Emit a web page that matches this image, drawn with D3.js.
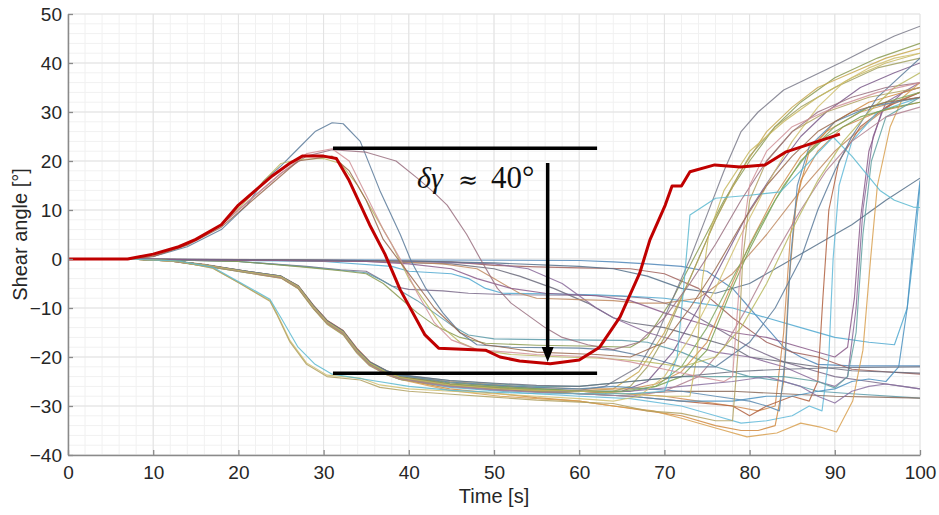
<!DOCTYPE html>
<html><head><meta charset="utf-8">
<script src="https://cdn.jsdelivr.net/npm/d3@7"></script>
<style>body{margin:0;background:#fff}</style>
</head><body>
<svg id="chart" width="939" height="515"></svg>
<script>
// ---------- data (time [s], shear angle [deg]) ----------
const xTicks = [0,10,20,30,40,50,60,70,80,90,100];
const yTicks = [-40,-30,-20,-10,0,10,20,30,40,50];

const red = [[0,0],[7,0],[10,1],[13,2.5],[15,4],[18,7],[20,11],[22,14],[24,17],[26,19.5],[27.5,21],[30,21],[31.5,20.5],[33,16],[35.4,7],[37.2,1],[39,-6.3],[41.9,-15.5],[43.5,-18.2],[49,-18.6],[50.7,-20],[53,-20.8],[56.6,-21.4],[60,-20.6],[62.4,-18],[64.8,-11.8],[67.1,-2.9],[68.3,3.9],[70.1,11],[70.9,14.9],[72,14.9],[73,17.8],[75.9,19.2],[78.9,18.8],[81.8,19.2],[84.2,21.8],[90.6,25.5]];

// rise-then-fall group
const a1 = [[0,0],[7,0],[10,0.5],[14,2.5],[18,6],[21,11],[23,16],[25,19],[27,22.5],[29,26],[31,27.8],[32.3,27.6],[34.3,24],[36.6,14],[39,5],[40.3,-0.5],[42,-6],[44,-11],[46,-15],[48,-17.5],[52,-18],[60,-18.2],[64,-18.6],[68,-20],[72,-22],[76,-22],[80,-17],[83,-10],[86,0],[88,10],[90,18],[92,25],[95,33],[100,41]];
const a2 = [[0,0],[7,0],[10,0.5],[14,3],[18,7],[22,13],[25,17.5],[28,21],[31,22.3],[35,21.8],[38.5,20],[41,16.5],[43,13.5],[44.5,11],[46.8,5],[48.4,0],[50.4,-6],[52,-9],[54,-11.5],[56,-14],[58,-16],[61,-17.5],[64,-18.5],[67,-17],[70,-12],[73,-5],[76,3],[79,12],[82,20],[85,26],[88,30],[92,33],[96,35],[100,36]];
const a3 = [[0,0],[7,0],[10,0.7],[14,3],[18,7],[21,12],[23,16],[25,19.5],[27,20.3],[30,20.5],[32,19.5],[34,15],[36,9],[38,3],[40,-4],[42,-9],[44,-14],[46,-17],[48,-18.5],[52,-19.5],[58,-20],[62,-20.2],[65,-20.5],[68,-21],[72,-22],[76,-20],[79,-14],[82,-5],[85,6],[88,16],[91,24],[94,30],[97,35],[100,38]];
const a4 = [[0,0],[7,0],[10,0.6],[14,3],[18,7],[22,13],[25,17.5],[28,21.5],[31,22.5],[33,20],[35,13],[37,6],[39,0],[41,-7],[43,-13],[45,-16.5],[48,-18.5],[55,-19.5],[62,-20],[66,-21],[70,-22.5],[74,-24],[77,-25],[78,-24],[78.6,-10],[79.2,5],[80,15],[82,22],[85,27],[90,31],[95,34],[100,36]];
const a5 = [[0,0],[7,0],[10,0.5],[14,2.8],[18,6.5],[22,12.5],[25,17],[27,20],[31,21],[33,18],[35,12],[37,4],[40,-3],[43,-10],[46,-15],[49,-17.5],[55,-19],[62,-19.5],[66,-20],[70,-17],[73,-10],[76,-2],[79,7],[82,15],[85,21],[88,26],[92,30],[96,32],[100,33]];

// near-zero / step-down group
const b1 = [[0,0],[7,0],[20,-0.1],[40,-0.2],[60,-0.3],[64,-0.6],[68,-1],[72,-1.5],[75,-2.5],[78,-6],[80,-10],[82,-14],[84,-18],[86,-20],[88,-21.5],[92,-21.8],[100,-21.8]];
const b2 = [[0,0],[7,0],[30,-0.2],[40,-0.4],[45,-0.6],[50,-1.3],[55,-1.6],[60,-1.8],[66,-2],[70,-3],[74,-6],[78,-12],[82,-17],[85,-19],[88,-20],[92,-22.5],[96,-23],[100,-23.5]];
const b3 = [[0,0],[7,0],[20,-0.5],[28,-1.5],[32,-2.2],[35,-2.5],[36.5,-4],[38,-5.5],[40,-6.2],[44,-6.5],[47,-7],[52,-7.3],[60,-7.4],[65,-7.6],[68,-8],[72,-10],[76,-14],[80,-18],[84,-21],[88,-23],[90,-24],[94,-25],[100,-26.5]];
const b4 = [[0,0],[7,0],[20,-0.5],[28,-1.6],[32,-2.3],[35,-2.8],[37,-4.5],[39,-6.5],[41,-8.5],[43,-11],[45,-13.5],[47,-15.5],[50,-16.3],[58,-16.5],[65,-16.6],[68,-17],[72,-19],[76,-22],[80,-24],[84,-25],[88,-27],[92,-27.5],[100,-28.4]];
const b5 = [[0,0],[7,0],[20,-0.5],[28,-1.7],[32,-2.4],[35,-3],[37,-5],[39,-8],[41,-11],[43,-13.5],[46,-16],[49,-17.2],[55,-17.6],[62,-17.8],[66,-18],[68,-16],[71,-8],[74,2],[77,12],[80,20],[83,27],[86,32],[90,37],[95,41],[100,44]];
const b6 = [[0,0],[7,0],[30,-0.5],[38,-1.5],[40,-2.5],[45,-3],[47,-4],[49,-6],[51,-7],[56,-7.1],[62,-7.3],[66,-7.6],[70,-8],[74,-9],[78,-10],[82,-12],[86,-14],[90,-16],[94,-17],[97,-17.5],[98.5,-10],[99.5,5],[100,15]];
const b7 = [[0,0],[7,0],[35,-0.5],[45,-1],[50,-2],[53,-3.5],[57,-6],[61,-9],[64,-12],[66,-13],[70,-14],[74,-16],[78,-18],[80,-20],[84,-21],[88,-22],[92,-22.8],[100,-23.3]];
const b8 = [[0,0],[7,0],[40,-0.5],[50,-1],[54,-2],[58,-5],[62,-10],[64,-12],[68,-15],[72,-17],[76,-19],[80,-20],[84,-22],[88,-25],[90,-26],[91.5,-24],[92.5,-10],[93.3,10],[94.5,25],[96,32],[100,36]];
const b9 = [[0,0],[7,0],[38,-0.5],[44,-1],[48,-2],[50,-4],[53,-7],[55,-8],[60,-8.3],[64,-8.5],[67,-9],[70,-9],[74,-8],[78,-3],[82,5],[86,14],[90,22],[94,28],[97,32],[100,34]];
const d1 = [[0,0],[7,0],[40,-0.4],[50,-0.8],[60,-1.5],[64,-2],[68,-3.5],[72,-6],[76,-7],[80,-5],[84,-1],[88,3],[92,7],[96,12],[100,16.5]];
const e1 = [[0,0],[7,0],[35,-0.5],[40,-1],[45,-2],[48,-4],[52,-6],[56,-7],[62,-7.5],[66,-8.5],[70,-11],[74,-13],[78,-15],[82,-16],[86,-18],[90,-20],[91.5,-18],[92.3,-8],[93,8],[94,22],[95.5,30],[98,34],[100,35]];

// early-descending bundle
const c1 = [[0,0],[7,0],[12,-0.3],[16,-1.2],[21,-2.6],[25,-3.6],[27,-5.6],[28.8,-9.7],[30.4,-12.8],[32.3,-14.9],[33.9,-18.6],[35.4,-21.2],[37.4,-23],[39,-24],[44.8,-25.3],[50.7,-26],[55,-26.5],[60,-26.8],[63,-26],[65,-24],[67,-22],[69,-16],[71,-8],[73,0],[75,9],[77,18],[79,26],[81,30],[84,34.5],[87,37],[90.6,40],[94,43],[97,45.5],[100,47.5]];
const c2 = [[0,0],[7,0],[12,-0.3],[16,-1.3],[21,-2.7],[25,-3.7],[27,-5.8],[28.8,-9.9],[30.4,-13],[32.3,-15.2],[33.9,-18.9],[35.4,-21.5],[37.4,-23.2],[39,-24.2],[44.8,-25.5],[50.7,-26.2],[55,-26.7],[60,-27],[64,-26.5],[67,-23],[70,-15],[73,-4],[76,8],[79,18],[82,26],[85,31],[88,35],[92,38],[96,41],[100,43]];
const c3 = [[0,0],[7,0],[12,-0.3],[16,-1.2],[21,-2.5],[25,-3.5],[27,-5.5],[28.8,-9.5],[30.4,-12.6],[32.3,-14.7],[33.9,-18.4],[35.4,-21],[37.4,-23.3],[39,-24.5],[44.8,-25.8],[50.7,-26.5],[55,-27],[60,-27.5],[65,-27],[68,-25],[71,-19],[74,-10],[77,0],[80,10],[83,18],[86,25],[89,30],[93,35],[97,38],[100,40]];
const c4 = [[0,0],[7,0],[12,-0.4],[16,-1.3],[21,-2.7],[25,-3.8],[27,-5.9],[28.8,-10],[30.4,-13.1],[32.3,-15.3],[33.9,-19],[35.4,-21.6],[37.4,-23.4],[39,-24.3],[44.8,-25.6],[50.7,-26.3],[55,-26.8],[60,-27],[65,-27.5],[70,-28],[74,-29],[78,-30],[81,-31],[83,-30],[84,-15],[84.8,5],[86,16],[88,22],[91,27],[95,30],[100,32]];
const c5 = [[0,0],[7,0],[12,-0.3],[16,-1.1],[21,-2.5],[25,-3.5],[27,-5.4],[28.8,-9.4],[30.4,-12.5],[32.3,-14.6],[33.9,-18.2],[35.4,-20.9],[37.4,-22.8],[39,-24],[44.8,-25.6],[50.7,-26.6],[55,-27.1],[60,-27.5],[66,-28],[72,-29],[78,-30],[80,-32],[82,-30],[85,-28],[87,-29],[88,-25],[88.6,-8],[89.3,10],[90.5,20],[93,27],[96,31],[100,34]];
const c6 = [[0,0],[7,0],[12,-0.3],[16,-1.2],[21,-2.6],[25,-3.7],[27,-5.7],[28.8,-9.8],[30.4,-12.9],[32.3,-15],[33.9,-18.7],[35.4,-21.4],[37.4,-23.4],[39,-24.6],[44.8,-26.2],[50.7,-27],[55,-27.5],[60,-28],[66,-28.5],[72,-30],[76,-32],[79,-33.5],[82,-33],[85,-32],[87,-30],[88.5,-31],[89.3,-20],[89.8,0],[90.5,15],[92,24],[95,30],[100,33]];
const c7 = [[0,0],[7,0],[12,-0.3],[16,-1.2],[21,-2.6],[25,-3.6],[27,-5.6],[28.8,-9.7],[30.4,-12.8],[32.3,-14.9],[33.9,-18.6],[35.4,-21.2],[37.4,-23.1],[39,-24.2],[44.8,-25.6],[50.7,-26.4],[55,-26.8],[60,-27],[66,-27.5],[72,-27],[78,-27],[84,-27.5],[90,-28],[95,-28.2],[100,-28.4]];
const c8 = [[0,0],[7,0],[12,-0.4],[16,-1.4],[21,-2.8],[25,-3.8],[27,-5.9],[28.8,-10],[30.4,-13],[32.3,-15.2],[33.9,-18.8],[35.4,-21.5],[37.4,-23.5],[39,-24.6],[44.8,-26],[50.7,-26.8],[55,-27.2],[60,-27.5],[66,-28],[72,-29],[78,-29],[82,-28],[85,-28],[88,-27],[90,-26.5],[92,-25],[94,-24.5],[96,-25],[97.5,-22],[98.5,-10],[99.3,5],[100,16]];
const c9 = [[0,0],[7,0],[12,-0.3],[16,-1.2],[21,-2.6],[25,-3.6],[27,-5.6],[28.8,-9.6],[30.4,-12.7],[32.3,-14.8],[33.9,-18.5],[35.4,-21.1],[37.4,-22.9],[39,-23.9],[44.8,-25.2],[50.7,-25.9],[55,-26.4],[60,-27],[66,-27],[69,-26],[72,-24],[75,-18.6],[77.7,-7],[80,2],[83,12],[86,20],[89,25],[93,29],[97,31],[100,32]];
const c10 = [[0,0],[7,0],[12,-0.3],[16,-1.2],[21,-2.6],[25,-3.6],[27,-5.7],[28.8,-9.8],[30.4,-12.9],[32.3,-15],[33.9,-18.7],[35.4,-21.3],[37.4,-23],[39,-23.8],[44.8,-25],[50.7,-25.7],[55,-26.2],[60,-26.5],[66,-26.5],[69,-25.5],[72,-23],[75,-17],[77.7,-6],[80,3],[83,13],[86,21],[89,26],[93,30],[97,32],[100,33]];
const c11 = [[0,0],[7,0],[12,-0.4],[16,-1.3],[21,-2.7],[25,-3.7],[27,-5.8],[28.8,-9.9],[30.4,-13],[32.3,-15.1],[33.9,-18.8],[35.4,-21.5],[37.4,-23.4],[39,-24.5],[44.8,-26.5],[50.7,-27.5],[55,-28.3],[60,-29],[64,-30],[68,-31],[72,-32],[76,-34],[79,-35],[81,-35],[83,-34],[84,-25],[84.6,-5],[85.5,12],[87,22],[90,28],[94,32],[100,35]];
const c12 = [[0,0],[7,0],[12,-0.4],[16,-1.4],[21,-2.8],[25,-3.9],[27,-6],[28.8,-10.1],[30.4,-13.2],[32.3,-15.4],[33.9,-19],[35.4,-21.7],[37.4,-23.6],[39,-24.6],[44.8,-26.8],[50.7,-28],[55,-28.5],[60,-29],[64,-30],[68.7,-31],[72,-32.5],[76,-34.5],[79.7,-36.3],[83.2,-35.5],[86,-33.5],[88.3,-34.3],[90.2,-35.3],[92.1,-29],[93.3,-18.6],[94.2,0],[95,15],[96.5,27],[98,33],[100,36]];
const c13 = [[0,0],[7,0],[12,-0.3],[16,-1.2],[21,-2.5],[25,-3.5],[27,-5.5],[28.8,-9.6],[30.4,-12.7],[32.3,-14.8],[33.9,-18.5],[35.4,-21],[37.4,-22.8],[39,-23.7],[44.8,-24.8],[50.7,-25.5],[55,-26],[60,-26],[66,-25],[72,-24],[78,-24],[84,-24],[88,-25],[90,-26.3],[91.5,-24],[92.5,-15],[93.3,5],[94.3,20],[96,29],[100,33]];
const c14 = [[0,0],[7,0],[12,-0.3],[16,-1.2],[21,-2.6],[25,-3.6],[27,-5.6],[28.8,-9.7],[30.4,-12.8],[32.3,-14.9],[33.9,-18.6],[35.4,-21.2],[37.4,-23.2],[39,-24.3],[44.8,-25.8],[50.7,-26.6],[55,-27],[60,-27],[66,-27],[72,-26],[78,-25],[82,-24],[86,-26],[88,-28],[90,-29.4],[92,-27],[94,-26],[96,-25.5],[98,-26],[100,-26.5]];
const c15 = [[0,0],[7,0],[12,-0.4],[16,-1.4],[21,-2.8],[25,-3.9],[27,-6],[28.8,-10.2],[30.4,-13.3],[32.3,-15.5],[33.9,-19.2],[35.4,-21.8],[37.4,-23.6],[39,-24.6],[44.8,-25.8],[50.7,-26.4],[55,-27],[60,-27.4],[63,-27.5],[66,-26],[68,-22],[70,-16],[72,-8],[74,0],[76,8],[78,15],[80,21],[83,27],[86,31],[90,35],[95,39],[100,41]];
const c16 = [[0,0],[7,0],[12,-0.3],[16,-1.2],[21,-2.6],[25,-3.6],[27,-5.6],[28.8,-9.7],[30.4,-12.8],[32.3,-14.9],[33.9,-18.6],[35.4,-21.2],[37.4,-22.9],[39,-23.8],[44.8,-25.1],[50.7,-25.8],[55,-26.2],[60,-26.5],[64,-26],[68,-26.5],[72,-27],[76,-28],[80,-29],[82,-30],[83.5,-31],[84.2,-20],[84.8,0],[85.6,15],[87,23],[90,28],[94,31],[100,33]];
const c17 = [[0,0],[7,0],[12,-0.3],[16,-1.3],[21,-2.7],[25,-3.7],[27,-5.7],[28.8,-9.8],[30.4,-12.9],[32.3,-15.1],[33.9,-18.8],[35.4,-21.4],[37.4,-23.2],[39,-24.2],[44.8,-25.5],[50.7,-26.2],[55,-26.6],[60,-27],[65,-27],[69,-26],[72,-22],[75,-14],[78,-4],[81,6],[84,15],[87,22],[90,27],[94,31],[100,34]];
const c18 = [[0,0],[7,0],[12,-0.4],[16,-1.3],[21,-2.7],[25,-3.8],[27,-5.8],[28.8,-9.9],[30.4,-13],[32.3,-15.2],[33.9,-18.9],[35.4,-21.6],[37.4,-23.5],[39,-24.5],[44.8,-26],[50.7,-26.8],[55,-27.2],[60,-27.5],[66,-28],[70,-27],[74,-24],[77,-18],[80,-9],[83,1],[86,10],[89,18],[92,24],[96,29],[100,31]];
const c19 = [[0,0],[7,0],[12,-0.3],[16,-1.2],[21,-2.5],[25,-3.5],[27,-5.5],[28.8,-9.5],[30.4,-12.6],[32.3,-14.7],[33.9,-18.4],[35.4,-21],[37.4,-22.8],[39,-23.6],[44.8,-24.8],[50.7,-25.4],[55,-25.8],[60,-26],[66,-25],[72,-24],[78,-23],[84,-22.5],[90,-22.2],[100,-22]];
const c20 = [[0,0],[7,0],[12,-0.3],[16,-1.2],[21,-2.6],[25,-3.6],[27,-5.6],[28.8,-9.7],[30.4,-12.8],[32.3,-14.9],[33.9,-18.6],[35.4,-21.2],[37.4,-23.1],[39,-24.2],[44.8,-25.7],[50.7,-26.5],[55,-26.8],[60,-27],[66,-27.5],[70,-28],[73,-28],[73.8,-20],[74.4,-5],[75.2,5],[77,14],[80,22],[84,28],[88,33],[92,37],[96,40],[100,42]];

// earliest-descending (yellow) pair
const y1 = [[0,0],[7,0],[13,-0.5],[17,-1.9],[20.2,-5],[22,-6.8],[23.7,-8.4],[24.5,-11],[26,-16.5],[28,-21.2],[30.4,-23.7],[34.3,-24.3],[36.6,-25.7],[40,-26.5],[45,-27],[50,-27.5],[55,-28],[60,-28.5],[64,-29],[67,-28],[70,-24],[73,-16],[76,-6],[79,5],[82,15],[85,24],[88,31],[91,36],[94,39],[97,41],[100,42]];
const y2 = [[0,0],[7,0],[13,-0.5],[17,-1.9],[20.2,-5],[22,-6.9],[23.7,-8.6],[24.5,-11.3],[26,-16.8],[28,-21.5],[30.4,-24],[34.3,-24.7],[36.6,-26.2],[40,-27],[45,-27.6],[50,-28.2],[55,-28.8],[60,-29.2],[64,-29.5],[68,-31],[72,-31.5],[76,-33],[78,-33],[78.6,-20],[79.2,0],[80,12],[82,20],[85,26],[89,30],[94,33],[100,35]];
const cy1 = [[0,0],[7,0],[13,-0.4],[17,-1.7],[20.2,-4.8],[23.7,-8.2],[25,-12],[27,-18],[29,-21.5],[31,-23.5],[35,-24.6],[40,-26],[45,-26.8],[50,-27.2],[55,-27.5],[60,-27.5],[66,-27.5],[70,-27],[71.5,-20],[72.3,-5],[73,9],[76,12.4],[80,13],[83.6,13.7],[86,18],[89.8,24.9],[92,21],[95.3,14],[97,12],[99.2,10.6],[100,10.5]];

const seriesList = [b1,b2,b3,b4,b5,b6,b7,b8,b9,d1,e1,
  c1,c2,c3,c4,c5,c6,c7,c8,c9,c10,c11,c12,c13,c14,c15,c16,c17,c18,c19,c20,
  y1,y2,cy1,a1,a2,a3,a4,a5];
const seriesColors = ['#4f86b8','#a0605a','#7a6a8a','#5a9aa8','#8a9a50','#4fa8d0','#6a6a7a','#8a6a9a','#c08a60','#55708a','#8a5a8a',
  '#7a7a8a','#c8a850','#7a5a8a','#d08a50','#b06040','#60b8d8','#8a6a5a','#4a90c0','#7aa050','#d09050','#d08a40','#d8a050','#60a0a0','#8a70a0','#a0a060','#5a8ab0','#80a860','#b08090','#6a7080','#c8b860',
  '#d0c070','#b0a060','#5ab8d0','#5a7a9a','#9a7080','#b8b860','#d09098','#9a6a50'];

// annotation values (data units)
const bracketLevels = [22.6, -23.3];
const bracketSpan = [31.1, 62.1];
const arrowTime = 56.3;
const arrowRange = [19.6, -21.0];

// ---------- drawing ----------
const svg = d3.select('#chart');
const x = d3.scaleLinear().domain([0,100]).range([68,920]);
const y = d3.scaleLinear().domain([-40,50]).range([455,14]);

// minor grid
const g = svg.append('g');
g.selectAll('.mx').data(d3.range(0,101,2)).enter().append('line')
  .attr('x1',d=>x(d)).attr('x2',d=>x(d)).attr('y1',y(-40)).attr('y2',y(50))
  .attr('stroke','#f1f1f1').attr('stroke-width',1);
g.selectAll('.my').data(d3.range(-40,51,2)).enter().append('line')
  .attr('y1',d=>y(d)).attr('y2',d=>y(d)).attr('x1',x(0)).attr('x2',x(100))
  .attr('stroke','#f1f1f1').attr('stroke-width',1);
// major grid
g.selectAll('.Mx').data(xTicks).enter().append('line')
  .attr('x1',d=>x(d)).attr('x2',d=>x(d)).attr('y1',y(-40)).attr('y2',y(50))
  .attr('stroke','#e2e2e2').attr('stroke-width',1);
g.selectAll('.My').data(yTicks).enter().append('line')
  .attr('y1',d=>y(d)).attr('y2',d=>y(d)).attr('x1',x(0)).attr('x2',x(100))
  .attr('stroke','#e2e2e2').attr('stroke-width',1);

svg.append('clipPath').attr('id','clip').append('rect')
  .attr('x',x(0)).attr('y',y(50)).attr('width',x(100)-x(0)).attr('height',y(-40)-y(50));

const line = d3.line().x(d=>x(d[0])).y(d=>y(d[1]));
const lg = svg.append('g').attr('clip-path','url(#clip)');
lg.selectAll('path.s').data(seriesList).enter().append('path')
  .attr('d',line).attr('fill','none')
  .attr('stroke',(d,i)=>seriesColors[i % seriesColors.length])
  .attr('stroke-width',1.15).attr('stroke-opacity',0.85)
  .attr('stroke-linejoin','round');
lg.append('path').datum(red).attr('d',line).attr('fill','none')
  .attr('stroke','#c00000').attr('stroke-width',3).attr('stroke-linejoin','round');

// axes
const fontFam = '"Liberation Sans", Arial, Helvetica, sans-serif';
const xAxis = d3.axisBottom(x).tickValues(xTicks).tickSizeInner(-5).tickSizeOuter(0).tickPadding(11);
const yAxis = d3.axisLeft(y).tickValues(yTicks).tickSizeInner(-5).tickSizeOuter(0).tickPadding(6);
const gx = svg.append('g').attr('transform',`translate(0,${y(-40)})`).call(xAxis);
const gy = svg.append('g').attr('transform',`translate(${x(0)},0)`).call(yAxis);
[gx,gy].forEach(a=>{
  a.select('.domain').attr('stroke','#8a8a8a').attr('stroke-width',1.5);
  a.selectAll('.tick line').attr('stroke','#8a8a8a').attr('stroke-width',1.3);
  a.selectAll('.tick text').attr('font-family',fontFam).attr('font-size',19).attr('fill','#262626');
});

svg.append('text').attr('x',x(50)).attr('y',503).attr('text-anchor','middle')
  .attr('font-family',fontFam).attr('font-size',20).attr('fill','#262626').text('Time [s]');
svg.append('text').attr('transform',`translate(27,${y(5)}) rotate(-90)`).attr('text-anchor','middle')
  .attr('font-family',fontFam).attr('font-size',20).attr('fill','#262626').text('Shear angle [°]');

// annotations
const ann = svg.append('g');
bracketLevels.forEach(v=>{
  ann.append('line').attr('x1',x(bracketSpan[0])).attr('x2',x(bracketSpan[1]))
    .attr('y1',y(v)).attr('y2',y(v)).attr('stroke','#000').attr('stroke-width',3.5);
});
const ax = x(arrowTime), ay0 = y(arrowRange[0]), ay1 = y(arrowRange[1]);
ann.append('line').attr('x1',ax).attr('x2',ax).attr('y1',ay0).attr('y2',ay1-12)
  .attr('stroke','#000').attr('stroke-width',3.5);
ann.append('path').attr('d',`M${ax-6},${ay1-15} L${ax+6},${ay1-15} L${ax},${ay1} Z`).attr('fill','#000');

const serifL = '"Liberation Serif","DejaVu Serif",serif';
const lab = ann.append('text').attr('x',417).attr('y',188)
  .attr('font-family',serifL).attr('font-size',30).attr('fill','#111');
lab.append('tspan').attr('font-style','italic').text('δγ');
lab.append('tspan').attr('x',458).attr('font-family','"DejaVu Serif",serif').attr('font-size',24).text('≈');
lab.append('tspan').attr('x',491).attr('font-size',31).text('40°');
</script>
</body></html>
